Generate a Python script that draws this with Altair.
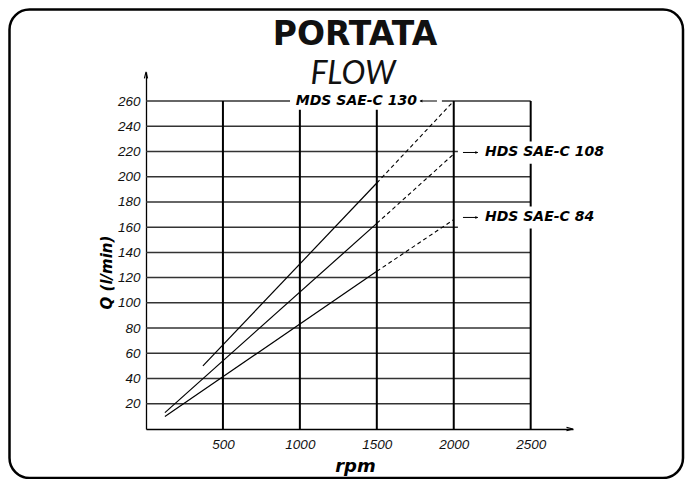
import altair as alt
import pandas as pd

# ---- data ----
q_grid = [20, 40, 60, 80, 100, 120, 140, 160, 180, 200, 220, 240, 260]
rpm_grid = [500, 1000, 1500, 2000, 2500]

series = ["MDS SAE-C 130", "HDS SAE-C 108", "HDS SAE-C 84"]
solid_rpm = [[370, 1500], [123, 1500], [123, 1500]]
solid_q = [[50, 195], [13, 163], [10, 125]]
dash_rpm = [[1500, 2000], [1500, 2000], [1500, 2000]]
dash_q = [[195, 260], [163, 218], [125, 166]]

# label placement (data units)
lab_text = ["MDS SAE-C 130", "HDS SAE-C 108", "HDS SAE-C 84"]
lab_x = [1761, 2203, 2203]
lab_y = [260, 219.2, 167.7]
lab_align = ["right", "left", "left"]
arrow_from = [1891, 2060, 2060]
arrow_to = [1780, 2157, 2157]
arrow_angle = [180, 0, 0]
box_x0 = [936, 2027, 2027]
box_x1 = [1923, 2995, 2995]
box_y0 = [253, 210.3, 158.9]
box_y1 = [269, 227.9, 176.4]

X_MAX = 2775
Y_MAX = 283
W, H = 427, 357
TICKFONT = "Liberation Sans"
BOLDFONT = "DejaVu Sans"

xs = alt.Scale(domain=[0, X_MAX], nice=False, zero=False)
ys = alt.Scale(domain=[0, Y_MAX], nice=False, zero=False)

xaxis = alt.Axis(values=rpm_grid, format="d", grid=False, ticks=False, domainColor="black",
                 domainWidth=1.3, labelFont=TICKFONT, labelFontStyle="italic",
                 labelFontSize=13.5, labelColor="#111111", labelPadding=8,
                 title="rpm", titleFont=BOLDFONT, titleFontStyle="italic",
                 titleFontWeight="bold", titleFontSize=18, titleColor="black",
                 titleX=209, titleY=37, titleBaseline="middle", titleAnchor="start", titleAlign="center")
yaxis = alt.Axis(values=q_grid, format="d", grid=False, ticks=False, domainColor="black",
                 domainWidth=1.3, labelFont=TICKFONT, labelFontStyle="italic",
                 labelFontSize=13.5, labelColor="#111111", labelPadding=6,
                 title="Q (l/min)", titleFont=BOLDFONT, titleFontStyle="italic",
                 titleFontWeight="bold", titleFontSize=15, titleColor="black",
                 titleAngle=270, titleX=-40, titleY=200, titleBaseline="middle",
                 titleAlign="center", titleAnchor="start")


def X(f):
    return alt.X(f, type="quantitative", scale=xs, axis=xaxis)


def Y(f):
    return alt.Y(f, type="quantitative", scale=ys, axis=yaxis)


hgrid = pd.DataFrame({"q": q_grid, "x0": 0, "x1": 2500})
vgrid = pd.DataFrame({"rpm": rpm_grid, "y0": 0, "y1": 260})

solid_rows, dash_rows = [], []
for i, s in enumerate(series):
    for r, q in zip(solid_rpm[i], solid_q[i]):
        solid_rows.append({"s": s, "rpm": r, "q": q})
    for r, q in zip(dash_rpm[i], dash_q[i]):
        dash_rows.append({"s": s, "rpm": r, "q": q})
solid_df = pd.DataFrame(solid_rows)
dash_df = pd.DataFrame(dash_rows)

labels = pd.DataFrame({"t": lab_text, "x": lab_x, "y": lab_y, "al": lab_align})
arrows = pd.DataFrame({"x0": arrow_from, "x1": arrow_to, "y": lab_y, "ang": arrow_angle})
boxes = pd.DataFrame({"x0": box_x0, "x1": box_x1, "y0": box_y0, "y1": box_y1})
axis_heads = pd.DataFrame({"x": [X_MAX, 0], "y": [0, Y_MAX], "ang": [0, 270]})
dummy = pd.DataFrame({"a": [0]})

border = alt.Chart(dummy).mark_rect(
    fill=None, stroke="black", strokeWidth=2.5, cornerRadius=20
).encode(x=alt.value(-136.5), x2=alt.value(537), y=alt.value(-62.5), y2=alt.value(406))

h_lines = alt.Chart(hgrid).mark_rule(color="#333333", strokeWidth=1.5).encode(
    x=X("x0"), x2="x1", y=Y("q"))
v_lines = alt.Chart(vgrid).mark_rule(color="black", strokeWidth=2).encode(
    x=X("rpm"), y=Y("y0"), y2="y1")
white_boxes = alt.Chart(boxes).mark_rect(fill="white", strokeWidth=0).encode(
    x=X("x0"), x2="x1", y=Y("y0"), y2="y1")

solid = alt.Chart(solid_df).mark_line(color="black", strokeWidth=1.2).encode(
    x=X("rpm"), y=Y("q"), detail="s:N")
dashed = alt.Chart(dash_df).mark_line(color="black", strokeWidth=1.1, strokeDash=[4, 3]).encode(
    x=X("rpm"), y=Y("q"), detail="s:N")

arrow_shafts = alt.Chart(arrows).mark_rule(color="black", strokeWidth=1).encode(
    x=X("x0"), x2="x1", y=Y("y"))
arrow_tips = alt.Chart(arrows).mark_point(
    shape="M-1,-0.6L0,0L-1,0.6Z", filled=True, color="black", size=25, opacity=1
).encode(x=X("x1"), y=Y("y"), angle=alt.Angle("ang:Q", scale=None))

heads = alt.Chart(axis_heads).mark_point(
    shape="M-2,-0.5L0,0L-2,0.5", filled=False, color="black", size=42, strokeWidth=1.1, opacity=1
).encode(x=X("x"), y=Y("y"), angle=alt.Angle("ang:Q", scale=None))

lab_right = alt.Chart(labels[labels.al == "right"]).mark_text(
    align="right", baseline="middle", font=BOLDFONT, fontStyle="italic", fontWeight="bold",
    fontSize=14, color="black").encode(x=X("x"), y=Y("y"), text="t:N")
lab_left = alt.Chart(labels[labels.al == "left"]).mark_text(
    align="left", baseline="middle", font=BOLDFONT, fontStyle="italic", fontWeight="bold",
    fontSize=14, color="black").encode(x=X("x"), y=Y("y"), text="t:N")

title1 = alt.Chart(dummy).mark_text(
    text="PORTATA", font=BOLDFONT, fontWeight="bold", fontSize=33, color="#111111",
    align="center", baseline="alphabetic").encode(x=alt.value(209), y=alt.value(-27))
title2 = alt.Chart(dummy).mark_text(
    text="FLOW", font="Lato", fontStyle="italic", fontWeight="normal", fontSize=32, color="#111111",
    align="center", baseline="alphabetic").encode(x=alt.value(207), y=alt.value(12))

chart = alt.layer(
    border, h_lines, v_lines, white_boxes, solid, dashed,
    arrow_shafts, arrow_tips, heads, lab_right, lab_left, title1, title2
).properties(
    width=W, height=H,
    background="white",
    autosize=alt.AutoSizeParams(type="none"),
    padding={"left": 138, "top": 64, "right": 113, "bottom": 50},
).configure_view(strokeWidth=0, stroke="transparent")

chart.save("out.html", embed_options={"renderer": "svg", "actions": False})
